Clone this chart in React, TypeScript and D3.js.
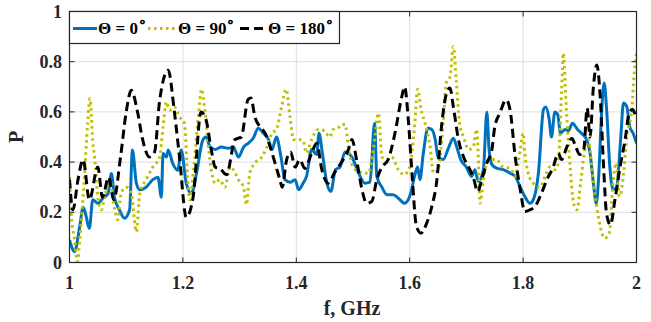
import * as d3 from "d3";

// frequency (GHz), P
const theta0: [number, number][] = [
  [1.0, 0.09], [1.009, 0.044], [1.018, 0.143], [1.024, 0.22], [1.028, 0.196], [1.035, 0.136],
  [1.041, 0.25], [1.05, 0.236], [1.059, 0.256], [1.068, 0.275], [1.074, 0.355], [1.079, 0.262],
  [1.088, 0.21], [1.097, 0.176], [1.106, 0.21], [1.111, 0.448], [1.118, 0.315], [1.124, 0.29],
  [1.135, 0.3], [1.147, 0.33], [1.156, 0.34], [1.162, 0.26], [1.165, 0.434], [1.171, 0.42],
  [1.174, 0.448], [1.182, 0.395], [1.191, 0.368], [1.197, 0.448], [1.206, 0.315], [1.215, 0.275],
  [1.224, 0.355], [1.235, 0.487], [1.241, 0.5], [1.248, 0.46], [1.257, 0.45], [1.268, 0.46],
  [1.28, 0.455], [1.289, 0.46], [1.298, 0.42], [1.307, 0.46], [1.315, 0.475], [1.324, 0.495],
  [1.333, 0.535], [1.342, 0.515], [1.351, 0.49], [1.357, 0.45], [1.365, 0.5], [1.373, 0.42],
  [1.38, 0.33], [1.389, 0.32], [1.398, 0.33], [1.404, 0.29], [1.412, 0.316], [1.418, 0.343],
  [1.427, 0.45], [1.436, 0.43], [1.44, 0.515], [1.446, 0.436], [1.454, 0.316], [1.461, 0.283],
  [1.469, 0.37], [1.477, 0.38], [1.486, 0.44], [1.498, 0.42], [1.51, 0.356], [1.521, 0.316],
  [1.53, 0.32], [1.538, 0.555], [1.542, 0.343], [1.551, 0.3], [1.56, 0.27], [1.571, 0.27],
  [1.58, 0.256], [1.591, 0.236], [1.601, 0.27], [1.61, 0.356], [1.614, 0.38], [1.618, 0.33],
  [1.624, 0.435], [1.632, 0.535], [1.639, 0.53], [1.645, 0.49], [1.65, 0.42], [1.659, 0.41],
  [1.669, 0.46], [1.677, 0.495], [1.683, 0.46], [1.69, 0.41], [1.7, 0.38], [1.709, 0.343],
  [1.715, 0.37], [1.721, 0.323], [1.73, 0.37], [1.736, 0.6], [1.74, 0.45], [1.745, 0.39],
  [1.753, 0.376], [1.765, 0.37], [1.777, 0.356], [1.786, 0.343], [1.795, 0.3], [1.803, 0.263],
  [1.812, 0.236], [1.818, 0.25], [1.827, 0.356], [1.836, 0.61], [1.84, 0.62], [1.846, 0.57],
  [1.85, 0.5], [1.856, 0.6], [1.861, 0.59], [1.866, 0.515], [1.874, 0.53], [1.88, 0.525],
  [1.887, 0.555], [1.896, 0.53], [1.903, 0.515], [1.912, 0.49], [1.918, 0.436], [1.924, 0.316],
  [1.929, 0.236], [1.933, 0.33], [1.939, 0.62], [1.943, 0.715], [1.947, 0.62], [1.953, 0.38],
  [1.959, 0.29], [1.965, 0.3], [1.972, 0.49], [1.977, 0.635], [1.983, 0.62], [1.988, 0.54],
  [1.994, 0.515], [2.0, 0.475],
];

const theta90: [number, number][] = [
  [1.0, 0.34], [1.003, 0.196], [1.009, 0.09], [1.014, 0.004], [1.018, 0.09], [1.026, 0.33],
  [1.032, 0.553], [1.036, 0.653], [1.041, 0.487], [1.046, 0.38], [1.05, 0.26], [1.056, 0.21],
  [1.062, 0.26], [1.071, 0.33], [1.079, 0.22], [1.085, 0.17], [1.091, 0.275], [1.1, 0.3],
  [1.109, 0.275], [1.118, 0.123], [1.124, 0.275], [1.135, 0.33], [1.147, 0.38], [1.159, 0.42],
  [1.165, 0.54], [1.171, 0.64], [1.176, 0.607], [1.185, 0.62], [1.194, 0.58], [1.203, 0.553],
  [1.208, 0.35], [1.212, 0.25], [1.22, 0.4], [1.228, 0.6], [1.233, 0.69], [1.239, 0.6],
  [1.245, 0.46], [1.251, 0.356], [1.257, 0.316], [1.265, 0.33], [1.274, 0.3], [1.283, 0.38],
  [1.289, 0.37], [1.298, 0.33], [1.307, 0.3], [1.312, 0.23], [1.318, 0.356], [1.327, 0.396],
  [1.339, 0.42], [1.348, 0.46], [1.357, 0.515], [1.365, 0.53], [1.374, 0.62], [1.382, 0.69],
  [1.389, 0.58], [1.395, 0.49], [1.404, 0.49], [1.412, 0.485], [1.418, 0.436], [1.427, 0.49],
  [1.439, 0.53], [1.449, 0.525], [1.459, 0.5], [1.465, 0.53], [1.473, 0.535], [1.481, 0.55],
  [1.486, 0.55], [1.492, 0.46], [1.5, 0.38], [1.512, 0.36], [1.527, 0.356], [1.536, 0.45],
  [1.545, 0.595], [1.551, 0.42], [1.56, 0.41], [1.568, 0.42], [1.58, 0.37], [1.59, 0.35],
  [1.6, 0.38], [1.609, 0.555], [1.614, 0.69], [1.62, 0.61], [1.627, 0.555], [1.636, 0.46],
  [1.642, 0.356], [1.65, 0.37], [1.659, 0.555], [1.665, 0.72], [1.671, 0.74], [1.677, 0.86],
  [1.682, 0.727], [1.688, 0.555], [1.695, 0.5], [1.704, 0.45], [1.712, 0.46], [1.718, 0.53],
  [1.721, 0.42], [1.724, 0.236], [1.73, 0.33], [1.736, 0.396], [1.745, 0.41], [1.753, 0.41],
  [1.765, 0.38], [1.777, 0.375], [1.786, 0.343], [1.795, 0.45], [1.8, 0.515], [1.803, 0.436],
  [1.809, 0.356], [1.818, 0.316], [1.83, 0.3], [1.839, 0.343], [1.847, 0.38], [1.856, 0.37],
  [1.862, 0.396], [1.868, 0.69], [1.871, 0.834], [1.876, 0.62], [1.883, 0.38], [1.889, 0.236],
  [1.895, 0.21], [1.902, 0.33], [1.909, 0.45], [1.915, 0.49], [1.921, 0.38], [1.929, 0.236],
  [1.936, 0.143], [1.944, 0.097], [1.952, 0.117], [1.958, 0.3], [1.964, 0.396], [1.97, 0.263],
  [1.976, 0.33], [1.983, 0.5], [1.992, 0.62], [1.996, 0.755], [2.0, 0.834],
];

const theta180: [number, number][] = [
  [1.0, 0.33], [1.006, 0.21], [1.015, 0.33], [1.024, 0.41], [1.035, 0.25], [1.05, 0.38],
  [1.058, 0.26], [1.069, 0.34], [1.078, 0.25], [1.09, 0.42], [1.1, 0.6], [1.109, 0.686],
  [1.12, 0.6], [1.128, 0.5], [1.141, 0.42], [1.15, 0.44], [1.159, 0.646], [1.174, 0.766],
  [1.185, 0.6], [1.194, 0.42], [1.206, 0.18], [1.218, 0.26], [1.232, 0.6], [1.241, 0.567],
  [1.25, 0.45], [1.257, 0.38], [1.265, 0.375], [1.277, 0.35], [1.292, 0.49], [1.303, 0.5],
  [1.315, 0.65], [1.32, 0.655], [1.327, 0.58], [1.336, 0.54], [1.345, 0.515], [1.354, 0.46],
  [1.362, 0.4], [1.371, 0.33], [1.375, 0.3], [1.383, 0.41], [1.39, 0.44], [1.398, 0.38],
  [1.406, 0.41], [1.415, 0.375], [1.427, 0.435], [1.436, 0.475], [1.445, 0.37], [1.456, 0.316],
  [1.468, 0.36], [1.48, 0.4], [1.492, 0.45], [1.498, 0.49], [1.507, 0.4], [1.515, 0.3],
  [1.524, 0.236], [1.533, 0.243], [1.542, 0.33], [1.551, 0.38], [1.562, 0.41], [1.574, 0.515],
  [1.586, 0.66], [1.591, 0.7], [1.598, 0.555], [1.604, 0.356], [1.612, 0.143], [1.62, 0.117],
  [1.63, 0.157], [1.639, 0.223], [1.648, 0.33], [1.656, 0.54], [1.665, 0.675], [1.671, 0.695],
  [1.677, 0.62], [1.686, 0.49], [1.695, 0.42], [1.704, 0.38], [1.712, 0.34], [1.72, 0.283],
  [1.727, 0.33], [1.736, 0.396], [1.745, 0.45], [1.75, 0.54], [1.759, 0.595], [1.77, 0.648],
  [1.777, 0.608], [1.786, 0.422], [1.795, 0.29], [1.803, 0.203], [1.812, 0.21], [1.821, 0.223],
  [1.83, 0.263], [1.842, 0.33], [1.853, 0.38], [1.862, 0.435], [1.868, 0.41], [1.877, 0.46],
  [1.886, 0.495], [1.893, 0.46], [1.9, 0.43], [1.907, 0.45], [1.913, 0.615], [1.918, 0.5],
  [1.924, 0.7], [1.93, 0.787], [1.936, 0.66], [1.942, 0.38], [1.947, 0.197], [1.954, 0.15],
  [1.962, 0.25], [1.971, 0.38], [1.98, 0.49], [1.987, 0.595], [1.993, 0.61], [2.0, 0.57],
];

const xTicks = [1, 1.2, 1.4, 1.6, 1.8, 2];
const yTicks = [0, 0.2, 0.4, 0.6, 0.8, 1];
const legendLabels = ["Θ = 0", "Θ = 90", "Θ = 180"];

const W = 651;
const H = 322;
const font = "'Liberation Serif', 'Times New Roman', serif";
const axisColor = "#262626";

const series = [
  { data: theta0, color: "#0072BD", dash: "none" },
  { data: theta90, color: "#BFBF00", dash: "2.5,3.5" },
  { data: theta180, color: "#000000", dash: "9,5" },
];

export default function App() {
  const x = d3.scaleLinear().domain([1, 2]).range([69.5, 636.5]);
  const y = d3.scaleLinear().domain([0, 1]).range([262.5, 11.5]);
  const line = d3
    .line<[number, number]>()
    .x((d) => x(d[0]))
    .y((d) => y(d[1]))
    .curve(d3.curveMonotoneX);

  const [x0, x1] = x.range();
  const [y0, y1] = y.range();

  // legend geometry
  const lg = { x: 69.5, y: 11.5, w: 270, h: 32 };
  const items = [
    { sx: 73, ex: 97, tx: 98 },
    { sx: 148, ex: 176, tx: 178 },
    { sx: 240, ex: 267, tx: 268 },
  ];

  return (
    <svg
      width={W}
      height={H}
      style={{ position: "absolute", left: 0, top: 0, background: "#fff" }}
      fontFamily={font}
      fontWeight="bold"
    >
      <defs>
        <clipPath id="plot">
          <rect x={x0} y={y1} width={x1 - x0} height={y0 - y1} />
        </clipPath>
      </defs>

      {/* grid */}
      {xTicks.slice(1, -1).map((t) => (
        <line key={"gx" + t} x1={x(t)} x2={x(t)} y1={y0} y2={y1} stroke="#dedede" strokeWidth={1} />
      ))}
      {yTicks.slice(1, -1).map((t) => (
        <line key={"gy" + t} y1={y(t)} y2={y(t)} x1={x0} x2={x1} stroke="#dedede" strokeWidth={1} />
      ))}

      {/* data lines */}
      <g clipPath="url(#plot)">
        {series.map((s, i) => (
          <path
            key={i}
            d={line(s.data) || ""}
            fill="none"
            stroke={s.color}
            strokeWidth={3}
            strokeDasharray={s.dash}
            strokeLinejoin="round"
          />
        ))}
      </g>

      {/* axes box and ticks */}
      <rect x={x0} y={y1} width={x1 - x0} height={y0 - y1} fill="none" stroke={axisColor} strokeWidth={1.2} />
      {xTicks.map((t) => (
        <g key={"tx" + t}>
          <line x1={x(t)} x2={x(t)} y1={y0} y2={y0 - 5} stroke={axisColor} />
          <line x1={x(t)} x2={x(t)} y1={y1} y2={y1 + 5} stroke={axisColor} />
          <text x={x(t)} y={289} textAnchor="middle" fontSize={18} fill={axisColor}>
            {String(t)}
          </text>
        </g>
      ))}
      {yTicks.map((t) => (
        <g key={"ty" + t}>
          <line x1={x0} x2={x0 + 5} y1={y(t)} y2={y(t)} stroke={axisColor} />
          <line x1={x1} x2={x1 - 5} y1={y(t)} y2={y(t)} stroke={axisColor} />
          <text x={62} y={y(t) + 6} textAnchor="end" fontSize={18} fill={axisColor}>
            {String(t)}
          </text>
        </g>
      ))}

      {/* axis labels */}
      <text x={352} y={315} textAnchor="middle" fontSize={20} fill={axisColor}>
        f, GHz
      </text>
      <text
        transform={`translate(23,137) rotate(-90)`}
        textAnchor="middle"
        fontSize={20}
        fill={axisColor}
      >
        P
      </text>

      {/* legend */}
      <rect x={lg.x} y={lg.y} width={lg.w} height={lg.h} fill="#fff" stroke={axisColor} strokeWidth={1.2} />
      {series.map((s, i) => (
        <g key={"lg" + i}>
          <line
            x1={items[i].sx}
            x2={items[i].ex}
            y1={28.5}
            y2={28.5}
            stroke={s.color}
            strokeWidth={3}
            strokeDasharray={s.dash}
          />
          <text x={items[i].tx} y={34} fontSize={17} fill="#000">
            {legendLabels[i]}
            <tspan fontSize={14} dy={-8}>∘</tspan>
          </text>
        </g>
      ))}
    </svg>
  );
}
